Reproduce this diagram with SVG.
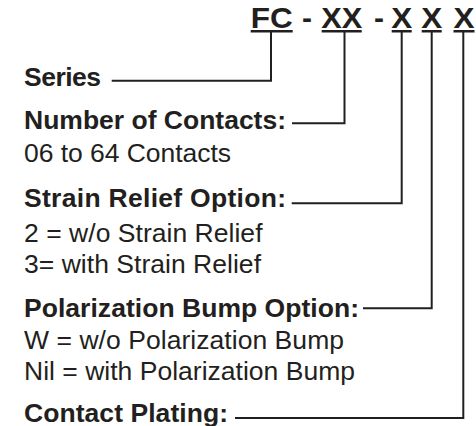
<svg xmlns="http://www.w3.org/2000/svg" width="476" height="426" viewBox="0 0 476 426">
<style>
.t{font-family:"Liberation Sans",Arial,sans-serif;fill:#231f20}
.b{font-weight:bold;font-size:26.5px}
.r{font-size:26.5px}
.h{font-weight:bold;font-size:30px;text-anchor:middle}
.c{fill:none;stroke:#231f20;stroke-width:2}
.u{fill:#231f20}
</style>
<rect width="476" height="426" fill="#fff"/>
<g id="title">
<text class="t h" x="271.7" y="28" textLength="42" lengthAdjust="spacingAndGlyphs">FC</text>
<text class="t h" x="307" y="28">-</text>
<text class="t h" x="341.7" y="28" textLength="41" lengthAdjust="spacingAndGlyphs">XX</text>
<text class="t h" x="379" y="28">-</text>
<text class="t h" x="401.7" y="28" textLength="21" lengthAdjust="spacingAndGlyphs">X</text>
<text class="t h" x="431.7" y="28" textLength="21" lengthAdjust="spacingAndGlyphs">X</text>
<text class="t h" x="464" y="28" textLength="21" lengthAdjust="spacingAndGlyphs">X</text>
<rect class="u" x="250.7" y="30" width="42" height="2.5"/>
<rect class="u" x="321.7" y="30" width="40" height="2.5"/>
<rect class="u" x="391.7" y="30" width="20" height="2.5"/>
<rect class="u" x="421.7" y="30" width="20" height="2.5"/>
<rect class="u" x="453.5" y="30" width="21" height="2.5"/>
</g>
<g id="series"><text class="t b" x="24" y="86" textLength="77">Series</text></g>
<g id="contacts">
<text class="t b" x="24" y="129.3" textLength="262">Number of Contacts:</text>
<text class="t r" x="24" y="162" textLength="207">06 to 64 Contacts</text>
</g>
<g id="strain">
<text class="t b" x="24" y="207" textLength="262">Strain Relief Option:</text>
<text class="t r" x="24" y="241.5" textLength="238.5">2 = w/o Strain Relief</text>
<text class="t r" x="24" y="273" textLength="237">3= with Strain Relief</text>
</g>
<g id="polarization">
<text class="t b" x="24" y="317" textLength="335">Polarization Bump Option:</text>
<text class="t r" x="24" y="348.5" textLength="320">W = w/o Polarization Bump</text>
<text class="t r" x="24" y="380" textLength="331">Nil = with Polarization Bump</text>
</g>
<g id="plating"><text class="t b" x="24" y="421.5" textLength="204">Contact Plating:</text></g>
<g id="connectors">
<polyline class="c" points="271,32 271,80.7 111.7,80.7"/>
<polyline class="c" points="344.5,32 344.5,123.3 292,123.3"/>
<polyline class="c" points="401.7,32 401.7,203.3 291.7,203.3"/>
<polyline class="c" points="431.7,32 431.7,308.3 363,308.3"/>
<polyline class="c" points="463.3,32 463.3,418 235,418"/>
</g>
</svg>
